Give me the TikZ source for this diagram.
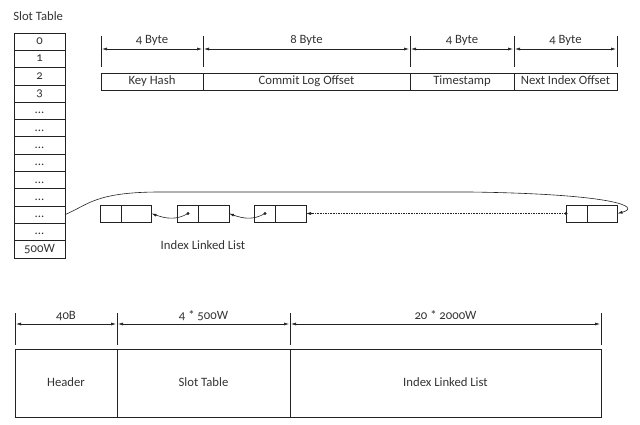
\documentclass[tikz,border=0pt]{standalone}
\usepackage{fontspec}
\setmainfont{Carlito}[Numbers=OldStyle]
\usetikzlibrary{arrows.meta}
\definecolor{ink}{HTML}{222222}
\definecolor{txt}{HTML}{333333}
\newcommand\slotdots{...}
\begin{document}
\begin{tikzpicture}[x=1pt,y=-1pt,line width=0.6pt,draw=ink,
  cell/.style={draw=ink,inner sep=0pt,outer sep=0pt,text=txt,text height=8.5pt,text depth=2.5pt,font=\fontsize{12.7}{14}\selectfont},
  lbl/.style={inner sep=1pt,text=txt,font=\fontsize{12.7}{14}\selectfont},
  tipa/.style={-{Latex[length=5pt,width=3pt]}},
  dimarr/.style={{Latex[length=5pt,width=3pt]}-{Latex[length=5pt,width=3pt]}},
  dotmark/.style={circle,fill=ink,inner sep=0pt,minimum size=3.2pt}]
\useasboundingbox (0,0) rectangle (640,425);

% ---------- Slot table ----------
\node[lbl,anchor=west] (sttitle) at (12,16) {Slot Table};
\foreach \i/\t in {0/0,1/1,2/2,3/3,4/\slotdots,5/\slotdots,6/\slotdots,7/\slotdots,8/\slotdots,9/\slotdots,10/\slotdots,11/\slotdots,12/500W}{
  \node[cell,anchor=north west,minimum width=51pt,minimum height=17.3pt] (s\i) at (14,{33+\i*17.3}) {\t};
}

% ---------- Record layout ----------
\node[cell,anchor=north west,minimum width=102pt,minimum height=17pt] (kh) at (101,73) {Key Hash};
\node[cell,anchor=north west,minimum width=207pt,minimum height=17pt] (clo) at (203,73) {Commit Log Offset};
\node[cell,anchor=north west,minimum width=104pt,minimum height=17pt] (ts) at (410,73) {Timestamp};
\node[cell,anchor=north west,minimum width=103pt,minimum height=17pt] (nio) at (514,73) {Next Index Offset};

\foreach \n/\x in {0/101,1/203,2/410,3/514,4/617}{
  \coordinate (ta\n) at (\x,36);
  \coordinate (tb\n) at (\x,67);
  \coordinate (d\n) at (\x,49);
  \draw (ta\n) -- (tb\n);
}
\draw[dimarr] ([xshift=1pt]d0) -- node[lbl,anchor=base,yshift=5pt] (l0) {4 Byte} ([xshift=-1pt]d1);
\draw[dimarr] ([xshift=1pt]d1) -- node[lbl,anchor=base,yshift=5pt] (l1) {8 Byte} ([xshift=-1pt]d2);
\draw[dimarr] ([xshift=1pt]d2) -- node[lbl,anchor=base,yshift=5pt] (l2) {4 Byte} ([xshift=-1pt]d3);
\draw[dimarr] ([xshift=1pt]d3) -- node[lbl,anchor=base,yshift=5pt] (l3) {4 Byte} ([xshift=-1pt]d4);

% ---------- Index linked list ----------
\foreach \b/\x in {1/100,2/177.5,3/254.5,4/566}{
  \node[cell,anchor=north west,minimum width=21pt,minimum height=17pt] (b\b l) at (\x,205) {};
  \node[cell,anchor=north west,minimum width=30.5pt,minimum height=17pt] (b\b r) at ([xshift=21pt]\x,205) {};
}
\node[dotmark] (p2) at (b2l.center) {};
\node[dotmark] (p3) at (b3l.center) {};
\node[dotmark] (p4) at (b4l.west) {};

\draw[tipa] (p2.center) .. controls +(-12,7) and +(14,5) .. (b1r.east);
\draw[tipa] (p3.center) .. controls +(-12,7) and +(14,5) .. (b2r.east);
\draw[tipa,dash pattern=on 1.6pt off 1pt] (p4.center) -- (b3r.east);
\draw[tipa] (s10.east) .. controls (88,205) and (95,192) .. (160,192)
  -- (470,192) .. controls (615,194) and (642,207) .. (b4r.east);

\node[lbl] (illbl) at (203,245) {Index Linked List};

% ---------- File layout ----------
\node[cell,anchor=north west,minimum width=102pt,minimum height=68pt] (hdr) at (15,349) {Header};
\node[cell,anchor=north west,minimum width=173pt,minimum height=68pt] (stb) at (117,349) {Slot Table};
\node[cell,anchor=north west,minimum width=311pt,minimum height=68pt] (ilb) at (290,349) {Index Linked List};

\foreach \n/\x in {0/15,1/117,2/290,3/601}{
  \coordinate (ua\n) at (\x,313);
  \coordinate (ub\n) at (\x,345);
  \coordinate (e\n) at (\x,324);
  \draw (ua\n) -- (ub\n);
}
\draw[dimarr] ([xshift=1pt]e0) -- node[lbl,anchor=base,yshift=4.5pt] (m0) {40B} ([xshift=-1pt]e1);
\draw[dimarr] ([xshift=1pt]e1) -- node[lbl,anchor=base,yshift=4.5pt] (m1) {4 * 500W} ([xshift=-1pt]e2);
\draw[dimarr] ([xshift=1pt]e2) -- node[lbl,anchor=base,yshift=4.5pt] (m2) {20 * 2000W} ([xshift=-1pt]e3);
\end{tikzpicture}
\end{document}
